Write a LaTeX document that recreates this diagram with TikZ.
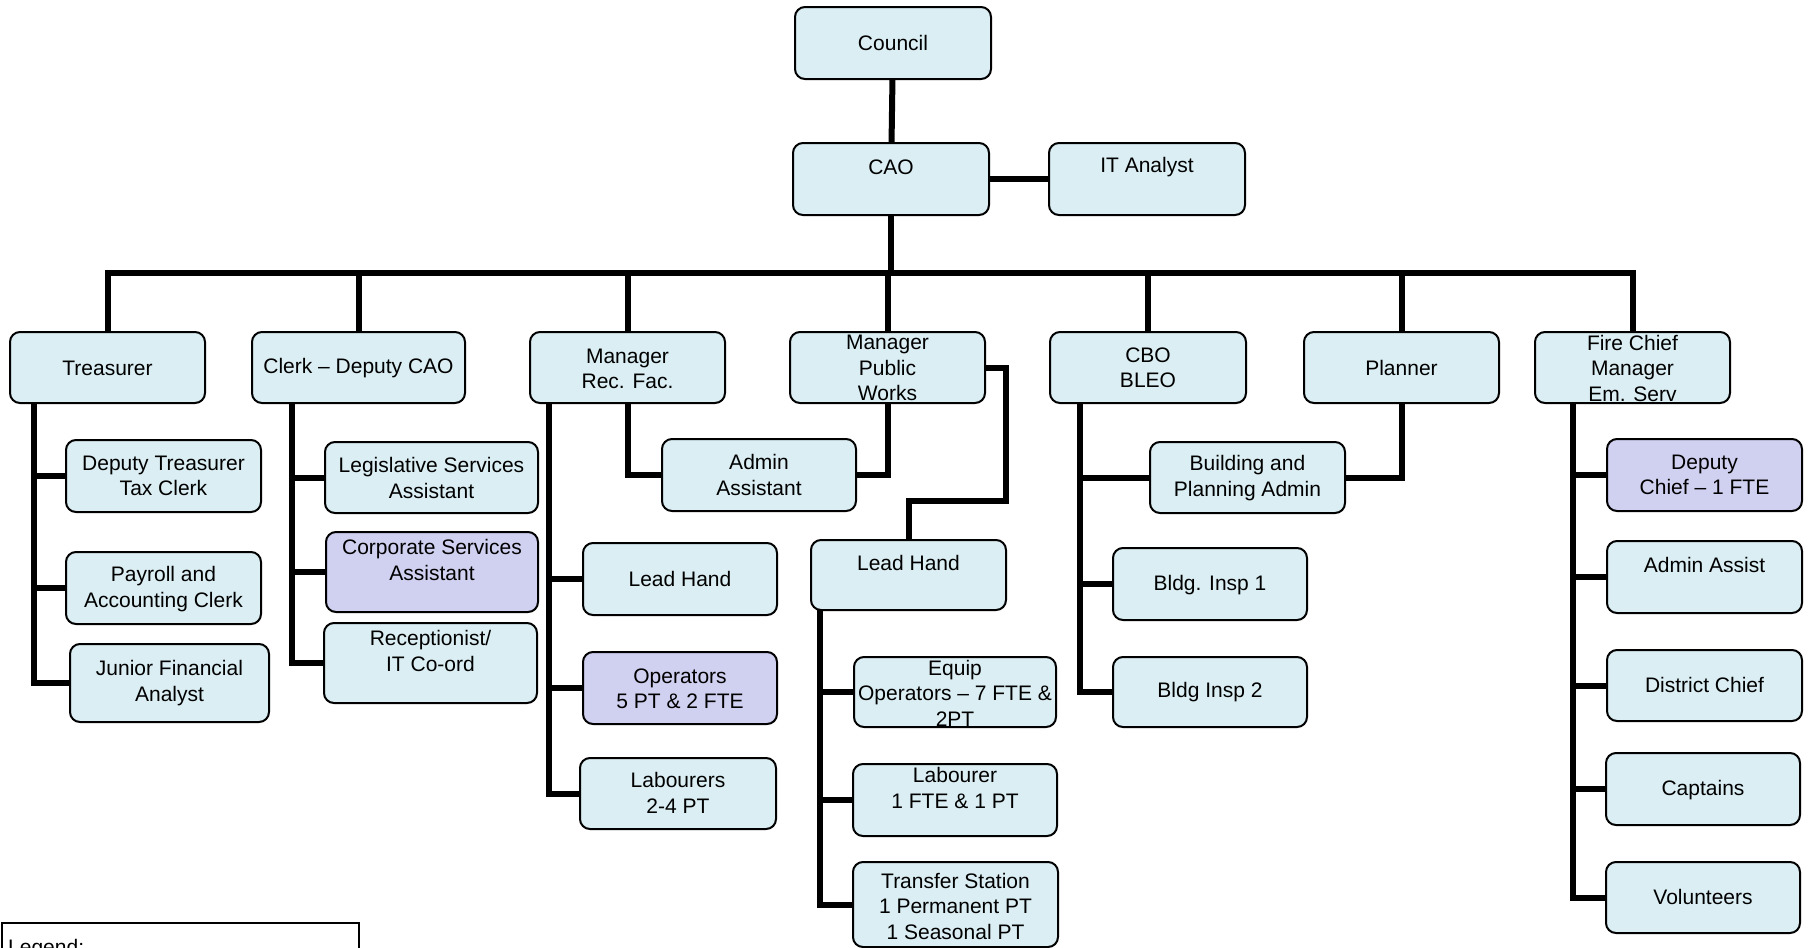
\documentclass[tikz,border=0pt]{standalone}
\usepackage{fontspec}
\setmainfont{Liberation Sans}
\usetikzlibrary{calc}
\definecolor{boxblue}{HTML}{DAEEF3}
\definecolor{boxpurple}{HTML}{D0D0F0}
\tikzset{
 box/.style={draw=black, line width=2pt, rounded corners=10pt, fill=boxblue, inner sep=0pt, outer sep=0pt},
 hl/.style={fill=boxpurple},
 txt/.style={align=center, inner sep=0pt, font=\fontsize{21}{25.5}\selectfont, text=black},
 conn/.style={line width=6pt, draw=black},
}
\newcommand\orgbox[8]{%
 \node[box,#6, minimum width={(#4)-(#2)}, minimum height={(#5)-(#3)}] (#1) at ({((#2)+(#4))/2},{((#3)+(#5))/2}) {};
 \node[txt] (#1t) at ({((#2)+(#4))/2},#8) {#7};
}
\begin{document}
\begin{tikzpicture}[x=1pt,y=-1pt]
\useasboundingbox (0,0) rectangle (1808,948);
\clip (0,0) rectangle (1808,948);
% top
\orgbox{council}{795}{7}{991}{79}{}{Council}{43}
\orgbox{cao}{793}{143}{989}{215}{}{CAO}{167}
\orgbox{it}{1049}{143}{1245}{215}{}{IT Analyst}{167}
% second row
\orgbox{tre}{10}{332}{205}{403}{}{Treasurer}{368}
\orgbox{clk}{252}{332}{465}{403}{}{Clerk -- Deputy CAO}{368}
\orgbox{mrf}{530}{332}{725}{403}{}{Manager\\Rec. Fac.}{369}
\orgbox{mpw}{790}{332}{985}{403}{}{Manager\\Public\\Works}{368}
\orgbox{cbo}{1050}{332}{1246}{403}{}{CBO\\BLEO}{368}
\orgbox{pln}{1304}{332}{1499}{403}{}{Planner}{368}
\orgbox{fir}{1535}{332}{1730}{403}{}{Fire Chief\\Manager\\Em. Serv}{368}
% treasurer
\orgbox{dt}{66}{440}{261}{512}{}{Deputy Treasurer\\Tax Clerk}{476}
\orgbox{pay}{66}{552}{261}{624}{}{Payroll and\\Accounting Clerk}{589}
\orgbox{jfa}{70}{644}{269}{722}{}{Junior Financial\\Analyst}{683}
% clerk
\orgbox{leg}{325}{442}{538}{513}{}{Legislative Services\\Assistant}{478}
\orgbox{corp}{326}{532}{538}{612}{hl}{Corporate Services\\Assistant}{560}
\orgbox{rec}{324}{623}{537}{703}{}{Receptionist/\\IT Co-ord}{651}
% rec fac
\orgbox{adm}{662}{439}{856}{511}{}{Admin\\Assistant}{475}
\orgbox{lhr}{583}{543}{777}{615}{}{Lead Hand}{579}
\orgbox{ops}{583}{652}{777}{724}{hl}{Operators\\5 PT \& 2 FTE}{689}
\orgbox{lab}{580}{758}{776}{829}{}{Labourers\\2-4 PT}{793}
% public works
\orgbox{lhp}{811}{540}{1006}{610}{}{Lead Hand}{563}
\orgbox{equ}{854}{657}{1056}{727}{}{Equip\\Operators -- 7 FTE \&\\2PT}{693}
\orgbox{lbr}{853}{764}{1057}{836}{}{Labourer\\1 FTE \& 1 PT}{788}
\orgbox{trs}{853}{862}{1058}{947}{}{Transfer Station\\1 Permanent PT\\1 Seasonal PT}{906}
% cbo
\orgbox{bpa}{1150}{442}{1345}{513}{}{Building and\\Planning Admin}{478}
\orgbox{bi1}{1113}{548}{1307}{620}{}{Bldg. Insp 1}{585}
\orgbox{bi2}{1113}{657}{1307}{727}{}{Bldg Insp 2}{692}
% fire
\orgbox{dc}{1607}{439}{1802}{511}{hl}{Deputy\\Chief -- 1 FTE}{475}
\orgbox{aas}{1607}{541}{1802}{613}{}{Admin Assist}{565}
\orgbox{dis}{1607}{650}{1802}{721}{}{District Chief}{685}
\orgbox{cap}{1606}{753}{1800}{825}{}{Captains}{790}
\orgbox{vol}{1606}{862}{1800}{933}{}{Volunteers}{897}
% legend
\node[draw=black, line width=1.5pt, anchor=north west, minimum width=357, minimum height=80, inner sep=0pt] (legend) at (1,922) {};
\node[txt, anchor=base west] (legendt) at (8,954) {Legend:};
% connectors
\draw[conn] (council) -- (cao);
\draw[conn] (cao) -- (it);
\coordinate (busy) at (0,273);
\coordinate (bus) at (cao.south |- busy);
\draw[conn] (cao.south) -- (bus);
\foreach \n in {tre,clk,mrf,mpw,cbo,pln,fir} \draw[conn] (\n.north) |- (bus);
% treasurer
\coordinate (tsp) at ($(tre.south west)+(24,0)$);
\foreach \c in {dt,pay,jfa} \draw[conn] (tsp) |- (\c.west);
% clerk
\coordinate (csp) at ($(clk.south west)+(40,0)$);
\foreach \c in {leg,corp,rec} \draw[conn] (csp) |- (\c.west);
% rec fac
\coordinate (rsp) at ($(mrf.south west)+(19,0)$);
\foreach \c in {lhr,ops,lab} \draw[conn] (rsp) |- (\c.west);
\draw[conn] (mrf.south) |- (adm.west);
\draw[conn] (mpw.south) |- (adm.east);
% public works
\draw[conn] (mpw.east) -| ($(mpw.east)+(21,133)$) -| (lhp.north);
\coordinate (psp) at ($(lhp.south west)+(9,0)$);
\foreach \c in {equ,lbr,trs} \draw[conn] (psp) |- (\c.west);
% cbo
\coordinate (bsp) at ($(cbo.south west)+(30,0)$);
\foreach \c in {bpa,bi1,bi2} \draw[conn] (bsp) |- (\c.west);
\draw[conn] (pln.south) |- (bpa.east);
% fire
\coordinate (fsp) at ($(fir.south west)+(38,0)$);
\foreach \c in {dc,aas,dis,cap,vol} \draw[conn] (fsp) |- (\c.west);
\end{tikzpicture}
\end{document}
